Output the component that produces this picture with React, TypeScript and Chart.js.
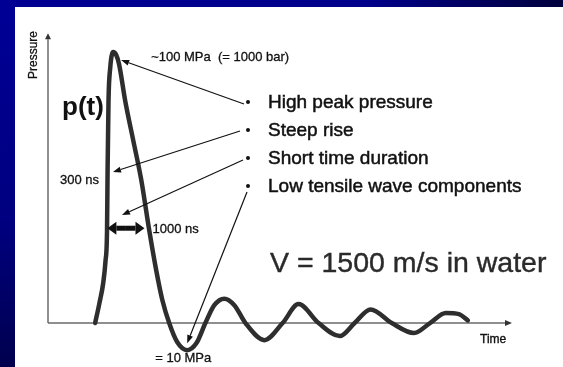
import React, { useEffect, useRef } from 'react';
import { Chart, registerables } from 'chart.js';

Chart.register(...registerables);

// Pressure pulse p(t): time in ns, pressure in MPa
const TIME_NS = [
  1270, 1380, 1490, 1550, 1590, 1605, 1630, 1675, 1755, 1835, 1915, 2080, 2295, 2510,
  2730, 2915, 3080, 3265, 3480, 3750, 4000, 4240, 4480, 4750, 5020, 5320, 5830, 6320,
  6750, 7290, 7860, 8260, 8690, 9260, 9860, 10290, 10720, 11070, 11310,
];
const PRESSURE_MPA = [
  0, 7, 15, 23, 34, 56, 82, 94, 100, 99, 95.5, 82, 67.5, 53,
  34, 19.5, 8.5, 0, -7, -10, -7.4, 0, 6.6, 9, 6.6, 0, -6.3, 0,
  7, 0, -4.8, 0, 5, 0, -3.7, 0, 3.7, 3.3, 1,
];

const TIME_MAX_NS = 12500;
const Y_MIN = -14;
const Y_MAX = 110;
const Y_AXIS_TOP = 107;

const PEAK_LABEL = '~100 MPa  (= 1000 bar)';
const TROUGH_LABEL = '= 10 MPa';
const RISE_LABEL = '300 ns';
const WIDTH_LABEL = '1000 ns';
const PULSE_START_NS = 1600;
const PULSE_WIDTH_NS = 1000;
const PULSE_LEVEL_MPA = 35;
const BULLETS = ['High peak pressure', 'Steep rise', 'Short time duration', 'Low tensile wave components'];
const SPEED_LABEL = 'V = 1500 m/s in water';
const X_TITLE = 'Time';
const Y_TITLE = 'Pressure';
const SERIES_LABEL = 'p(t)';

const FONT = '"Liberation Sans", Arial, Helvetica, sans-serif';

function arrow(ctx: CanvasRenderingContext2D, x1: number, y1: number, x2: number, y2: number, len: number, half: number) {
  const a = Math.atan2(y2 - y1, x2 - x1);
  const bx = x2 - len * Math.cos(a);
  const by = y2 - len * Math.sin(a);
  ctx.beginPath();
  ctx.moveTo(x1, y1);
  ctx.lineTo(bx, by);
  ctx.stroke();
  ctx.beginPath();
  ctx.moveTo(x2, y2);
  ctx.lineTo(bx + half * Math.sin(a), by - half * Math.cos(a));
  ctx.lineTo(bx - half * Math.sin(a), by + half * Math.cos(a));
  ctx.closePath();
  ctx.fill();
}

// filled text with a hairline outline, giving the heavier print look
function heavyText(ctx: CanvasRenderingContext2D, s: string, x: number, y: number, w: number) {
  ctx.fillText(s, x, y);
  ctx.lineWidth = w;
  ctx.strokeText(s, x, y);
}

const axesPlugin = {
  id: 'sketchAxes',
  beforeDatasetsDraw(chart: any) {
    const { ctx, scales } = chart;
    const x = scales.x;
    const y = scales.y;
    const x0 = x.getPixelForValue(0);
    const y0 = y.getPixelForValue(0);
    ctx.save();
    ctx.strokeStyle = '#6a6a6a';
    ctx.fillStyle = '#333';
    ctx.lineWidth = 1.5;
    arrow(ctx, x0, y0, x0, y.getPixelForValue(Y_AXIS_TOP), 6, 3);
    arrow(ctx, x0, y0, x.getPixelForValue(TIME_MAX_NS), y0, 7, 3);
    ctx.restore();
  },
};

const notesPlugin = {
  id: 'sketchNotes',
  afterDatasetsDraw(chart: any) {
    const { ctx, scales } = chart;
    const x = scales.x;
    const y = scales.y;
    const px = (t: number) => x.getPixelForValue(t);
    const py = (p: number) => y.getPixelForValue(p);

    const iPeak = PRESSURE_MPA.indexOf(Math.max(...PRESSURE_MPA));
    const iTrough = PRESSURE_MPA.indexOf(Math.min(...PRESSURE_MPA));
    const peakX = px(TIME_NS[iPeak]);
    const peakY = py(PRESSURE_MPA[iPeak]);
    const troughX = px(TIME_NS[iTrough]);
    const troughY = py(PRESSURE_MPA[iTrough]);

    ctx.save();
    ctx.fillStyle = '#111';
    ctx.strokeStyle = '#111';
    ctx.textBaseline = 'middle';
    ctx.textAlign = 'left';

    // axis titles
    ctx.font = `12px ${FONT}`;
    heavyText(ctx, X_TITLE, 465, 333, 0.35);
    ctx.save();
    ctx.translate(19, 48);
    ctx.rotate(-Math.PI / 2);
    ctx.textAlign = 'center';
    heavyText(ctx, Y_TITLE, 0, 0, 0.3);
    ctx.restore();

    // value notes
    ctx.font = `13px ${FONT}`;
    heavyText(ctx, PEAK_LABEL, peakX + 38, peakY + 5, 0.3);
    heavyText(ctx, RISE_LABEL, 45, 173, 0.3);
    heavyText(ctx, TROUGH_LABEL, troughX - 32, 351, 0.3);

    ctx.font = `bold 26px ${FONT}`;
    ctx.fillText(SERIES_LABEL, 47, 101);

    // pulse-width double arrow
    const wy = py(PULSE_LEVEL_MPA);
    const wl = px(PULSE_START_NS);
    const wr = px(PULSE_START_NS + PULSE_WIDTH_NS);
    ctx.lineWidth = 5;
    const mid = (wl + wr) / 2;
    arrow(ctx, mid, wy, wl, wy, 9, 6.5);
    arrow(ctx, mid, wy, wr, wy, 9, 6.5);
    ctx.font = `13px ${FONT}`;
    heavyText(ctx, WIDTH_LABEL, wr + 8, wy + 1, 0.3);

    // bullet list
    const rows = [95, 123, 151, 179];
    ctx.font = `19px ${FONT}`;
    BULLETS.forEach((b, i) => {
      ctx.beginPath();
      ctx.arc(233, rows[i], 2, 0, Math.PI * 2);
      ctx.fill();
      heavyText(ctx, b, 253, rows[i] + 1, 0.5);
    });

    // pointers from the bullets to the curve
    ctx.lineWidth = 1.2;
    arrow(ctx, 229, rows[0] + 2, peakX + 8, peakY + 8, 8, 3);
    arrow(ctx, 225, rows[1] + 1, 98, 165, 8, 3);
    arrow(ctx, 228, rows[2] + 2, 107, 208, 8, 3);
    arrow(ctx, 232, rows[3] + 6, troughX, troughY - 7, 8, 3);

    ctx.font = `28.5px ${FONT}`;
    ctx.fillStyle = '#2a2a2a';
    ctx.strokeStyle = '#2a2a2a';
    ctx.textBaseline = 'alphabetic';
    heavyText(ctx, SPEED_LABEL, 255, 265, 0.4);
    ctx.restore();
  },
};

export default function App() {
  const ref = useRef<HTMLCanvasElement>(null);

  useEffect(() => {
    if (!ref.current) return;
    const chart = new Chart(ref.current, {
      type: 'line',
      data: {
        datasets: [
          {
            label: SERIES_LABEL,
            data: TIME_NS.map((t, i) => ({ x: t, y: PRESSURE_MPA[i] })),
            borderColor: '#2e2e2e',
            borderWidth: 4.5,
            pointRadius: 0,
            cubicInterpolationMode: 'monotone',
            borderCapStyle: 'round',
            borderJoinStyle: 'round',
            clip: false as any,
          },
        ],
      },
      options: {
        responsive: false,
        animation: false,
        layout: { padding: { left: 33, right: 51, top: 18, bottom: 6 } },
        plugins: { legend: { display: false }, tooltip: { enabled: false } },
        scales: {
          x: { type: 'linear', min: 0, max: TIME_MAX_NS, display: false },
          y: { type: 'linear', min: Y_MIN, max: Y_MAX, display: false },
        },
      },
      plugins: [axesPlugin, notesPlugin],
    });
    return () => chart.destroy();
  }, []);

  return (
    <div style={{ position: 'fixed', left: 0, top: 0, width: 563, height: 367, background: '#fff', overflow: 'hidden' }}>
      <div style={{ position: 'absolute', left: 0, top: 0, width: 563, height: 7, background: 'linear-gradient(to right, #000094 0%, #00008a 65%, #00003c 100%)' }} />
      <div style={{ position: 'absolute', left: 0, top: 0, width: 15, height: 367, background: 'linear-gradient(to bottom, #000096 0%, #000080 60%, #00004e 100%)' }} />
      <canvas ref={ref} width={548} height={360} style={{ position: 'absolute', left: 15, top: 7, display: 'block' }} />
    </div>
  );
}
